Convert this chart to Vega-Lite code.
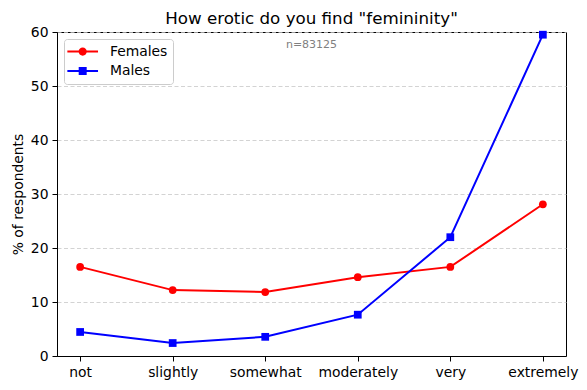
{
  "$schema": "https://vega.github.io/schema/vega-lite/v6.json",
  "width": 509,
  "height": 324,
  "autosize": "none",
  "padding": {"left": 57, "top": 32, "right": 21, "bottom": 34},
  "background": "white",
  "title": {"text": "How erotic do you find \"femininity\"", "fontSize": 16.7, "fontWeight": "normal", "font": "DejaVu Sans", "color": "black", "offset": -3},
  "config": {
    "font": "DejaVu Sans",
    "view": {"stroke": "black", "strokeWidth": 1},
    "axis": {"domainColor": "black", "tickColor": "black", "tickSize": 5, "labelFontSize": 13.9, "labelColor": "black", "labelPadding": 4, "titleFontSize": 13.9, "titleFontWeight": "normal", "titleColor": "black", "labelFont": "DejaVu Sans", "titleFont": "DejaVu Sans"},
    "legend": {"title": null, "orient": "top-left", "offset": 7, "symbolSize": 196, "labelFontSize": 13.9, "labelColor": "black", "labelOffset": 26.3, "rowPadding": 5.4, "padding": 5.6, "strokeColor": "#cccccc", "fillColor": "white", "cornerRadius": 3, "symbolStrokeWidth": 0}
  },
  "datasets": {
    "main": [
      {"level": "not", "sex": "Females", "pct": 16.5},
      {"level": "slightly", "sex": "Females", "pct": 12.2},
      {"level": "somewhat", "sex": "Females", "pct": 11.85},
      {"level": "moderately", "sex": "Females", "pct": 14.6},
      {"level": "very", "sex": "Females", "pct": 16.5},
      {"level": "extremely", "sex": "Females", "pct": 28.1},
      {"level": "not", "sex": "Males", "pct": 4.45},
      {"level": "slightly", "sex": "Males", "pct": 2.4},
      {"level": "somewhat", "sex": "Males", "pct": 3.55},
      {"level": "moderately", "sex": "Males", "pct": 7.65},
      {"level": "very", "sex": "Males", "pct": 22.0},
      {"level": "extremely", "sex": "Males", "pct": 59.5}
    ],
    "note": [{"label": "n=83125", "xpos": 0.5, "ypos": 57.6}]
  },
  "layer": [
    {
      "data": {"name": "main"},
      "encoding": {
        "x": {"field": "level", "type": "ordinal", "sort": ["not", "slightly", "somewhat", "moderately", "very", "extremely"], "scale": {"type": "point", "padding": 0.25}, "axis": {"title": null, "labelAngle": 0, "grid": false}},
        "y": {"field": "pct", "type": "quantitative", "scale": {"domain": [0, 60], "nice": false}, "axis": {"title": "% of respondents", "values": [0, 10, 20, 30, 40, 50, 60], "grid": true, "gridColor": "#c8c8c8", "gridDash": [4, 2.5], "gridWidth": 0.8, "titlePadding": 4.5}},
        "color": {"field": "sex", "type": "nominal", "title": null, "scale": {"domain": ["Females", "Males"], "range": ["#ff0000", "#0000ff"]}}
      },
      "layer": [
        {"mark": {"type": "line", "strokeWidth": 2}},
        {"mark": {"type": "point", "filled": true, "opacity": 1, "size": 60},
         "encoding": {"shape": {"condition": {"test": "datum.sex === 'Males'", "value": "square"}, "value": "circle"}}},
        {"transform": [{"filter": "false"}],
         "mark": {"type": "point", "filled": true, "opacity": 1},
         "encoding": {"shape": {"field": "sex", "type": "nominal", "title": null, "scale": {"domain": ["Females", "Males"], "range": ["M-1.32,-0.14H0.37V0.14H-1.32Z M1.37,-0.14H3.06V0.14H1.37Z M1.46,0A0.59,0.59 0 1 1 0.28,0A0.59,0.59 0 1 1 1.46,0Z", "M-1.32,-0.14H0.37V0.14H-1.32Z M1.37,-0.14H3.06V0.14H1.37Z M0.3,-0.57H1.44V0.57H0.3Z"]}}}}
      ]
    },
    {
      "data": {"name": "note"},
      "mark": {"type": "text", "fontSize": 11, "color": "gray", "baseline": "middle", "align": "center"},
      "encoding": {
        "x": {"field": "xpos", "type": "quantitative", "scale": {"domain": [0, 1]}, "axis": null},
        "y": {"field": "ypos", "type": "quantitative"},
        "text": {"field": "label"}
      }
    }
  ],
  "resolve": {"scale": {"x": "independent"}}
}
